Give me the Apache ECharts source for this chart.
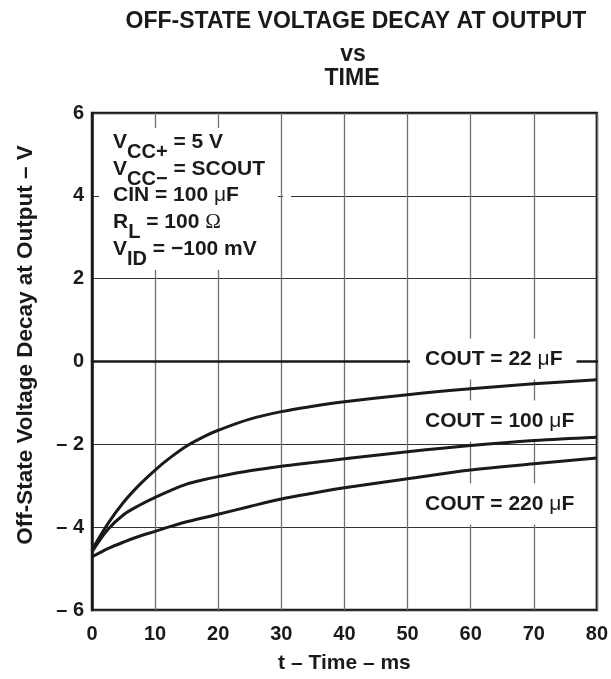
<!DOCTYPE html>
<html><head><meta charset="utf-8">
<script src="https://cdn.jsdelivr.net/npm/echarts@6/dist/echarts.min.js"></script>
<style>html,body{margin:0;padding:0;background:#fff}#c{width:611px;height:679px}</style>
</head><body><div id="c"></div>
<script>
// ---- data ----
const timeMs   = [0, 2.5, 5, 7.5, 10, 12.5, 15, 17.5, 20, 25, 30, 35, 40, 50, 60, 70, 80];
const cout22   = [-4.55, -3.92, -3.40, -2.98, -2.62, -2.31, -2.04, -1.83, -1.66, -1.39, -1.21, -1.08, -0.97, -0.80, -0.66, -0.54, -0.44];
const cout100  = [-4.60, -4.06, -3.70, -3.47, -3.28, -3.11, -2.96, -2.86, -2.78, -2.64, -2.53, -2.44, -2.35, -2.18, -2.03, -1.91, -1.83];
const cout220  = [-4.72, -4.52, -4.36, -4.22, -4.10, -3.98, -3.87, -3.78, -3.69, -3.50, -3.32, -3.18, -3.05, -2.83, -2.62, -2.47, -2.33];
const seriesLabels = ['22', '100', '220'];
const xTickValues = [0, 10, 20, 30, 40, 50, 60, 70, 80];
const yTickValues = [-6, -4, -2, 0, 2, 4, 6];
const yTickLabels = ['– 6', '– 4', '– 2', '0', '2', '4', '6'];

const FONT = '"Liberation Sans", Arial, Helvetica, sans-serif';
const INK = '#1a1a1a';

const yLabelMap = {};
yTickValues.forEach((v, i) => { yLabelMap[v] = yTickLabels[i]; });

function pairs(ys) { return timeMs.map((t, i) => [t, ys[i]]); }

const chart = echarts.init(document.getElementById('c'), null, { renderer: 'canvas' });

const richBase = {
  m:   { fontFamily: FONT, fontWeight: 'bold', fontSize: 21, lineHeight: 21, color: INK },
  s:   { fontFamily: FONT, fontWeight: 'bold', fontSize: 20, lineHeight: 20, padding: [20, 0, 0, 0], color: INK },
  mu:  { fontFamily: FONT, fontWeight: 'normal', fontSize: 21, lineHeight: 21, color: INK },
  om:  { fontFamily: '"Liberation Serif", serif', fontWeight: 'normal', fontSize: 21, lineHeight: 21, color: INK }
};

function textEl(x, y, text, extra) {
  return {
    type: 'text', x: x, y: y, z: 3,
    style: Object.assign({
      text: text, fill: INK,
      font: 'bold 21px ' + FONT,
      align: 'left', verticalAlign: 'middle',
      rich: richBase
    }, extra || {})
  };
}

const boxLines = [
  '{m|V}{s|CC+}{m| = 5 V}',
  '{m|V}{s|CC−}{m| = SCOUT}',
  '{m|CIN = 100 }{mu|μ}{m|F}',
  '{m|R}{s|L}{m| = 100 }{om|Ω}',
  '{m|V}{s|ID}{m| = −100 mV}'
];
const boxY = [142.5, 169, 195.5, 222.5, 249];

const coutY = [359, 421, 504];

const graphics = [
  // title
  { type: 'text', x: 356, y: 21.5, z: 3, style: { text: 'OFF-STATE VOLTAGE DECAY AT OUTPUT', font: 'bold 23px ' + FONT, fill: INK, align: 'center', verticalAlign: 'middle' } },
  { type: 'text', x: 353, y: 55, z: 3, style: { text: 'vs', font: 'bold 23px ' + FONT, fill: INK, align: 'center', verticalAlign: 'middle' } },
  { type: 'text', x: 352, y: 79, z: 3, style: { text: 'TIME', font: 'bold 23px ' + FONT, fill: INK, align: 'center', verticalAlign: 'middle' } },
  // y axis title
  { type: 'text', x: 26, y: 345, rotation: Math.PI / 2, z: 3, style: { text: 'Off-State Voltage Decay at Output – V', font: 'bold 22.5px ' + FONT, fill: INK, align: 'center', verticalAlign: 'middle' } },
  // white box behind conditions
  { type: 'rect', z: 2, shape: { x: 99, y: 128, width: 179, height: 142 }, style: { fill: '#fff' } },
  { type: 'rect', z: 2, shape: { x: 283, y: 193, width: 8, height: 6 }, style: { fill: '#fff' } }
];
boxLines.forEach((t, i) => graphics.push(textEl(113, boxY[i], t)));
seriesLabels.forEach((lab, i) => {
  graphics.push(textEl(410, coutY[i], '{m|COUT = ' + lab + ' }{mu|μ}{m|F}', {
    backgroundColor: '#fff', padding: [10, 14, 10, 15]
  }));
});

const lineStyle = { color: INK, width: 3 };

chart.setOption({
  animation: false,
  backgroundColor: '#fff',
  grid: { left: 92, right: 14, top: 113, bottom: 65, show: true, borderColor: INK, borderWidth: 2.5, backgroundColor: 'transparent' },
  xAxis: {
    type: 'value', min: 0, max: 80, interval: 10,
    name: 't – Time – ms', nameLocation: 'middle', nameGap: 43,
    nameTextStyle: { fontFamily: FONT, fontWeight: 'bold', fontSize: 21, color: INK, verticalAlign: 'top' },
    axisLine: { show: true, lineStyle: { color: INK, width: 2.5 } },
    axisTick: { show: false },
    axisLabel: { margin: 14, fontFamily: FONT, fontWeight: 'bold', fontSize: 20, color: INK,
      formatter: v => xTickValues.indexOf(v) >= 0 ? String(v) : '' },
    splitLine: { show: true, lineStyle: { color: '#707070', width: 1.3 } }
  },
  yAxis: {
    type: 'value', min: -6, max: 6, interval: 2,
    axisLine: { show: true, lineStyle: { color: INK, width: 2.5 } },
    axisTick: { show: false },
    axisLabel: { margin: 8, fontFamily: FONT, fontWeight: 'bold', fontSize: 20, color: INK,
      formatter: v => (yLabelMap[v] !== undefined ? yLabelMap[v] : '') },
    splitLine: { show: true, lineStyle: { color: '#333', width: 1 } }
  },
  series: [
    { type: 'line', name: '22', data: pairs(cout22), smooth: 0.35, showSymbol: false, lineStyle: lineStyle, z: 5 },
    { type: 'line', name: '100', data: pairs(cout100), smooth: 0.35, showSymbol: false, lineStyle: lineStyle, z: 5 },
    { type: 'line', name: '220', data: pairs(cout220), smooth: 0.35, showSymbol: false, lineStyle: lineStyle, z: 5 }
  ],
  graphic: { elements: graphics }
});
</script>
</body></html>
